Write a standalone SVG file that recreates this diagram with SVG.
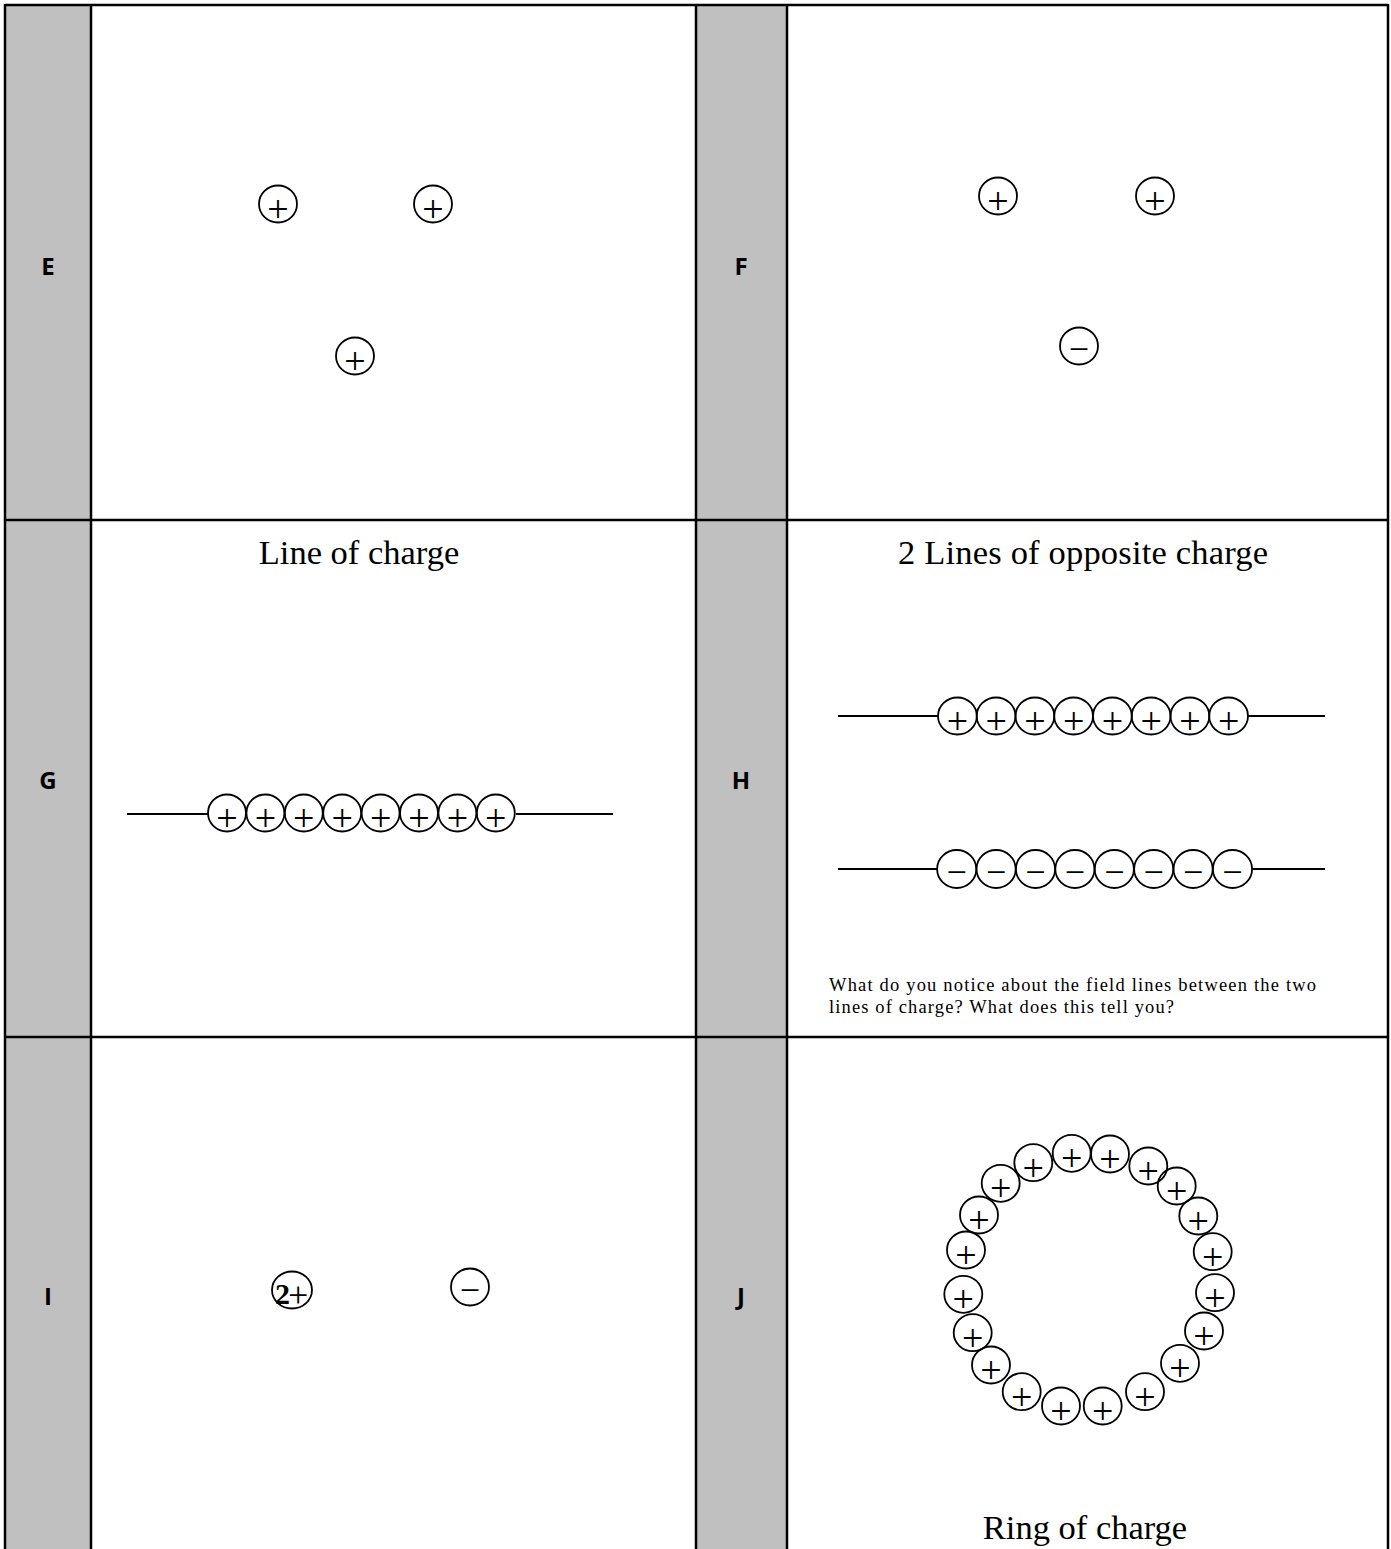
<svg xmlns="http://www.w3.org/2000/svg" width="1391" height="1549" viewBox="0 0 1391 1549">
<style>
.grid{stroke:#000;stroke-width:2.5;fill:none}
.side{fill:#c0c0c0}
.lbl{font-family:"Open Sans","Liberation Sans",sans-serif;font-weight:bold;font-size:24px;text-anchor:middle;fill:#000}
.ttl{font-family:"Liberation Serif",serif;font-size:34.5px;text-anchor:middle;fill:#000}
.q{font-family:"Liberation Serif",serif;font-size:18.5px;fill:#000}
.c{fill:none;stroke:#000;stroke-width:1.8}
.s{font-family:"Liberation Serif",serif;font-size:38px;text-anchor:middle;fill:#000}
.m{font-family:"Liberation Serif",serif;font-size:36px;text-anchor:middle;fill:#000}
.wire{stroke:#000;stroke-width:1.8}
</style>
<rect width="1391" height="1549" fill="#fff"/>
<g id="table">
<rect class="side" x="5" y="5" width="86" height="1544"/>
<rect class="side" x="696" y="5" width="91" height="1544"/>
<line class="grid" x1="5" y1="5" x2="1388" y2="5"/>
<line class="grid" x1="5" y1="520" x2="1388" y2="520"/>
<line class="grid" x1="5" y1="1037" x2="1388" y2="1037"/>
<line class="grid" x1="5" y1="4" x2="5" y2="1549"/>
<line class="grid" x1="91" y1="4" x2="91" y2="1549"/>
<line class="grid" x1="696" y1="4" x2="696" y2="1549"/>
<line class="grid" x1="787" y1="4" x2="787" y2="1549"/>
<line class="grid" x1="1388" y1="4" x2="1388" y2="1549"/>
</g>
<g id="labels">
<text class="lbl" x="48" y="275">E</text>
<text class="lbl" x="741" y="275">F</text>
<text class="lbl" x="48" y="789">G</text>
<text class="lbl" x="741" y="789">H</text>
<text class="lbl" x="48" y="1305">I</text>
<text class="lbl" x="741" y="1305">J</text>
</g>
<g id="titles">
<text class="ttl" x="359" y="564">Line of charge</text>
<text class="ttl" x="1083" y="564" textLength="370">2 Lines of opposite charge</text>
<text class="ttl" x="1085" y="1539">Ring of charge</text>
<text class="q" x="829" y="991" textLength="487">What do you notice about the field lines between the two</text>
<text class="q" x="829" y="1013" textLength="345">lines of charge? What does this tell you?</text>
</g>
<g id="wires">
<line class="wire" x1="127" y1="814" x2="208" y2="814"/>
<line class="wire" x1="516" y1="814" x2="613" y2="814"/>
<line class="wire" x1="838" y1="716" x2="938" y2="716"/>
<line class="wire" x1="1248" y1="716" x2="1325" y2="716"/>
<line class="wire" x1="838" y1="869" x2="937" y2="869"/>
<line class="wire" x1="1252" y1="869" x2="1325" y2="869"/>
</g>
<g id="panelE">
<ellipse class="c" cx="278" cy="204" rx="19" ry="18.5"/><text class="s" x="278" y="222">+</text>
<ellipse class="c" cx="433" cy="204" rx="19" ry="18.5"/><text class="s" x="433" y="222">+</text>
<ellipse class="c" cx="355" cy="356" rx="19" ry="18.5"/><text class="s" x="355" y="374">+</text>
</g>
<g id="panelF">
<ellipse class="c" cx="998" cy="196" rx="19" ry="18.5"/><text class="s" x="998" y="214">+</text>
<ellipse class="c" cx="1155" cy="196" rx="19" ry="18.5"/><text class="s" x="1155" y="214">+</text>
<ellipse class="c" cx="1079" cy="346" rx="19" ry="18.5"/><text class="m" x="1079" y="361">−</text>
</g>
<g id="panelG">
<ellipse class="c" cx="227" cy="813" rx="19" ry="18.5"/><text class="s" x="227" y="831">+</text>
<ellipse class="c" cx="265.4" cy="813" rx="19" ry="18.5"/><text class="s" x="265.4" y="831">+</text>
<ellipse class="c" cx="303.8" cy="813" rx="19" ry="18.5"/><text class="s" x="303.8" y="831">+</text>
<ellipse class="c" cx="342.2" cy="813" rx="19" ry="18.5"/><text class="s" x="342.2" y="831">+</text>
<ellipse class="c" cx="380.6" cy="813" rx="19" ry="18.5"/><text class="s" x="380.6" y="831">+</text>
<ellipse class="c" cx="419" cy="813" rx="19" ry="18.5"/><text class="s" x="419" y="831">+</text>
<ellipse class="c" cx="457.4" cy="813" rx="19" ry="18.5"/><text class="s" x="457.4" y="831">+</text>
<ellipse class="c" cx="495.8" cy="813" rx="19" ry="18.5"/><text class="s" x="495.8" y="831">+</text>
</g>
<g id="panelH">
<ellipse class="c" cx="957.4" cy="716" rx="19.4" ry="18.5"/><text class="s" x="957.4" y="734">+</text>
<ellipse class="c" cx="996.1" cy="716" rx="19.4" ry="18.5"/><text class="s" x="996.1" y="734">+</text>
<ellipse class="c" cx="1034.9" cy="716" rx="19.4" ry="18.5"/><text class="s" x="1034.9" y="734">+</text>
<ellipse class="c" cx="1073.6" cy="716" rx="19.4" ry="18.5"/><text class="s" x="1073.6" y="734">+</text>
<ellipse class="c" cx="1112.4" cy="716" rx="19.4" ry="18.5"/><text class="s" x="1112.4" y="734">+</text>
<ellipse class="c" cx="1151.1" cy="716" rx="19.4" ry="18.5"/><text class="s" x="1151.1" y="734">+</text>
<ellipse class="c" cx="1189.9" cy="716" rx="19.4" ry="18.5"/><text class="s" x="1189.9" y="734">+</text>
<ellipse class="c" cx="1228.6" cy="716" rx="19.4" ry="18.5"/><text class="s" x="1228.6" y="734">+</text>
<ellipse class="c" cx="956.7" cy="869" rx="19.6" ry="19"/><text class="m" x="956.7" y="884">−</text>
<ellipse class="c" cx="996.1" cy="869" rx="19.6" ry="19"/><text class="m" x="996.1" y="884">−</text>
<ellipse class="c" cx="1035.5" cy="869" rx="19.6" ry="19"/><text class="m" x="1035.5" y="884">−</text>
<ellipse class="c" cx="1074.9" cy="869" rx="19.6" ry="19"/><text class="m" x="1074.9" y="884">−</text>
<ellipse class="c" cx="1114.3" cy="869" rx="19.6" ry="19"/><text class="m" x="1114.3" y="884">−</text>
<ellipse class="c" cx="1153.7" cy="869" rx="19.6" ry="19"/><text class="m" x="1153.7" y="884">−</text>
<ellipse class="c" cx="1193.1" cy="869" rx="19.6" ry="19"/><text class="m" x="1193.1" y="884">−</text>
<ellipse class="c" cx="1232.5" cy="869" rx="19.6" ry="19"/><text class="m" x="1232.5" y="884">−</text>
</g>
<g id="panelI">
<ellipse class="c" cx="292" cy="1290" rx="20" ry="18.5"/>
<text font-family="Liberation Serif,serif" x="275" y="1304"><tspan font-size="30" font-weight="bold">2</tspan><tspan font-size="36" dx="-2" dy="3">+</tspan></text>
<ellipse class="c" cx="470" cy="1287" rx="19" ry="18.5"/><text class="m" x="470" y="1302">−</text>
</g>
<g id="panelJ">
<ellipse class="c" cx="1071.7" cy="1153.3" rx="19" ry="18.5"/><text class="s" x="1071.7" y="1171">+</text>
<ellipse class="c" cx="1110" cy="1154" rx="19" ry="18.5"/><text class="s" x="1110" y="1172">+</text>
<ellipse class="c" cx="1148.3" cy="1166" rx="19" ry="18.5"/><text class="s" x="1148.3" y="1184">+</text>
<ellipse class="c" cx="1176.7" cy="1186" rx="19" ry="18.5"/><text class="s" x="1176.7" y="1204">+</text>
<ellipse class="c" cx="1198.3" cy="1216" rx="19" ry="18.5"/><text class="s" x="1198.3" y="1234">+</text>
<ellipse class="c" cx="1212.7" cy="1251.7" rx="19" ry="18.5"/><text class="s" x="1212.7" y="1270">+</text>
<ellipse class="c" cx="1215" cy="1292.7" rx="19" ry="18.5"/><text class="s" x="1215" y="1311">+</text>
<ellipse class="c" cx="1204" cy="1331" rx="19" ry="18.5"/><text class="s" x="1204" y="1349">+</text>
<ellipse class="c" cx="1180" cy="1363.3" rx="19" ry="18.5"/><text class="s" x="1180" y="1381">+</text>
<ellipse class="c" cx="1145" cy="1391.7" rx="19" ry="18.5"/><text class="s" x="1145" y="1410">+</text>
<ellipse class="c" cx="1102.7" cy="1406" rx="19" ry="18.5"/><text class="s" x="1102.7" y="1424">+</text>
<ellipse class="c" cx="1061" cy="1406" rx="19" ry="18.5"/><text class="s" x="1061" y="1424">+</text>
<ellipse class="c" cx="1021.7" cy="1391.7" rx="19" ry="18.5"/><text class="s" x="1021.7" y="1410">+</text>
<ellipse class="c" cx="991" cy="1365" rx="19" ry="18.5"/><text class="s" x="991" y="1383">+</text>
<ellipse class="c" cx="972.7" cy="1332.7" rx="19" ry="18.5"/><text class="s" x="972.7" y="1351">+</text>
<ellipse class="c" cx="963.3" cy="1294.3" rx="19" ry="18.5"/><text class="s" x="963.3" y="1312">+</text>
<ellipse class="c" cx="966" cy="1250" rx="19" ry="18.5"/><text class="s" x="966" y="1268">+</text>
<ellipse class="c" cx="979" cy="1215" rx="19" ry="18.5"/><text class="s" x="979" y="1233">+</text>
<ellipse class="c" cx="1000.7" cy="1183.3" rx="19" ry="18.5"/><text class="s" x="1000.7" y="1201">+</text>
<ellipse class="c" cx="1033.3" cy="1162.7" rx="19" ry="18.5"/><text class="s" x="1033.3" y="1181">+</text>
</g>
</svg>
